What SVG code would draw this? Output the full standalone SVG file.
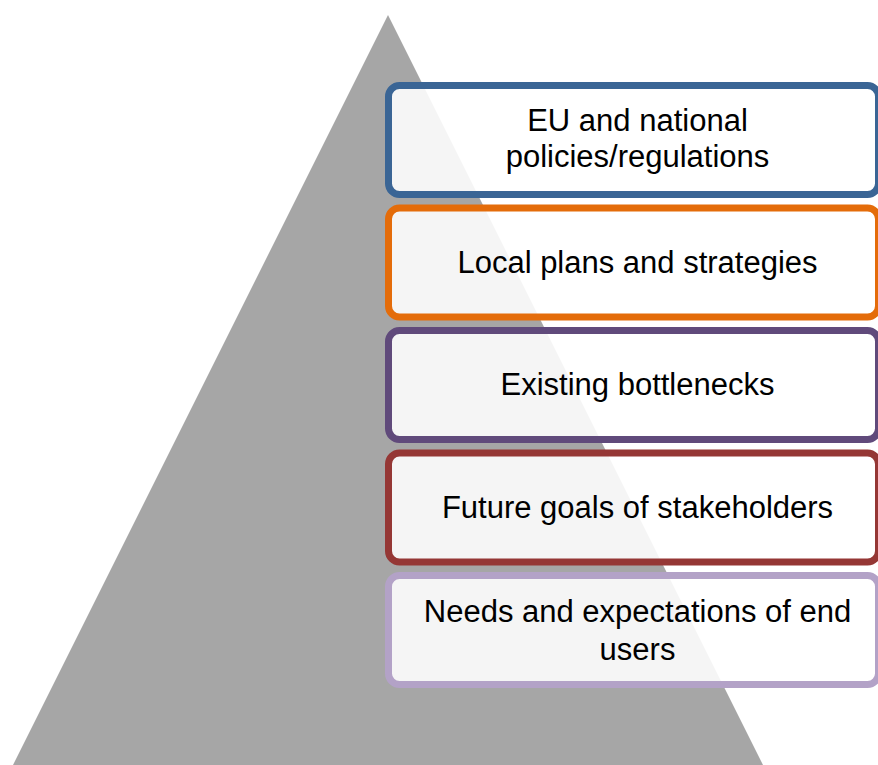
<svg xmlns="http://www.w3.org/2000/svg" width="878" height="765" viewBox="0 0 878 765">
  <style>
    .box { fill: #ffffff; fill-opacity: 0.885; stroke-width: 7; }
    .label { font-family: "Liberation Sans", Arial, sans-serif; font-size: 31px; fill: #000000; text-anchor: middle; }
  </style>
  <rect width="878" height="765" fill="#ffffff"/>

  <!-- pyramid backdrop -->
  <g id="pyramid">
    <polygon points="388,15 13,765 763,765" fill="#a6a6a6"/>
  </g>

  <g id="connectors"></g>

  <g id="eu-policies">
    <rect class="box" x="388.5" y="85.5" width="490" height="109" rx="11" stroke="#3a6595"/>
    <text class="label" x="637.5" y="131">EU and national</text>
    <text class="label" x="637.5" y="167">policies/regulations</text>
  </g>

  <g id="local-plans">
    <rect class="box" x="388.5" y="208" width="490" height="109" rx="11" stroke="#e46c0a"/>
    <text class="label" x="637.5" y="273">Local plans and strategies</text>
  </g>

  <g id="bottlenecks">
    <rect class="box" x="388.5" y="330.5" width="490" height="109" rx="11" stroke="#604a7b"/>
    <text class="label" x="637.5" y="395">Existing bottlenecks</text>
  </g>

  <g id="stakeholder-goals">
    <rect class="box" x="388.5" y="453" width="490" height="109" rx="11" stroke="#953735"/>
    <text class="label" x="637.5" y="518">Future goals of stakeholders</text>
  </g>

  <g id="end-users">
    <rect class="box" x="388.5" y="575.5" width="490" height="109" rx="11" stroke="#b3a2c7"/>
    <text class="label" x="637.5" y="622">Needs and expectations of end</text>
    <text class="label" x="637.5" y="660">users</text>
  </g>
</svg>
